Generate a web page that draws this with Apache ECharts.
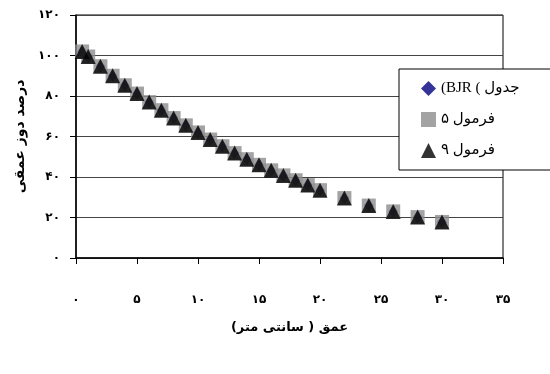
<!DOCTYPE html>
<html>
<head>
<meta charset="utf-8">
<script src="https://cdn.jsdelivr.net/npm/echarts@6/dist/echarts.min.js"></script>
<style>html,body{margin:0;padding:0;background:#fff}#c{width:550px;height:374px}</style>
</head>
<body>
<div id="c"></div>
<script>
var depths = [0.5,1,2,3,4,5,6,7,8,9,10,11,12,13,14,15,16,17,18,19,20,22,24,26,28,30];
var bjrTable = [102,99.5,94.7,90.0,85.3,81.2,77.0,73.0,69.1,65.5,62.0,58.5,55.2,51.8,48.8,46.0,43.3,40.8,38.4,36.0,33.5,29.6,25.9,23.0,20.2,17.8];
var formula5 = [102,99.5,94.7,90.0,85.3,81.2,77.0,73.0,69.1,65.5,62.0,58.5,55.2,51.8,48.8,46.0,43.3,40.8,38.4,36.0,33.5,29.6,25.9,23.0,20.2,17.8];
var formula9 = [102,99.5,94.7,90.0,85.3,81.2,77.0,73.0,69.1,65.5,62.0,58.5,55.2,51.8,48.8,46.0,43.3,40.8,38.4,36.0,33.5,29.6,25.9,23.0,20.2,17.8];
var seriesNames = ['(BJR ( جدول', 'فرمول ۵', 'فرمول ۹'];
var xTickLabels = ['۰','۵','۱۰','۱۵','۲۰','۲۵','۳۰','۳۵'];
var yTickLabels = ['۰','۲۰','۴۰','۶۰','۸۰','۱۰۰','۱۲۰'];
var xTitle = 'عمق ( سانتی متر)';
var yTitle = 'درصد دوز عمقی';

function pairs(xs, ys){ return xs.map(function(x,i){ return [x, ys[i]]; }); }

var chart = echarts.init(document.getElementById('c'));
chart.setOption({
  animation: false,
  backgroundColor: '#fff',
  grid: {left: 76, right: 47, top: 15, bottom: 116, show: true, borderColor: '#000', borderWidth: 1},
  legend: {
    orient: 'vertical', left: 399, top: 69,
    padding: [12, 40, 12, 22], itemGap: 16,
    itemWidth: 15, itemHeight: 15,
    borderColor: '#000', borderWidth: 1, backgroundColor: '#fff',
    textStyle: {fontFamily: '"Liberation Serif", "DejaVu Sans"', fontSize: 15, color: '#000'},
    data: [
      {name: seriesNames[0], icon: 'diamond'},
      {name: seriesNames[1], icon: 'rect'},
      {name: seriesNames[2], icon: 'triangle'}
    ]
  },
  xAxis: {
    type: 'value', min: 0, max: 35, interval: 5,
    name: xTitle, nameLocation: 'middle', nameGap: 63,
    nameTextStyle: {fontFamily: 'DejaVu Sans', fontWeight: 'bold', fontSize: 13, color: '#000'},
    axisLine: {lineStyle: {color: '#000', width: 1.5}},
    axisTick: {inside: false, length: 6, lineStyle: {color: '#000'}},
    axisLabel: {margin: 36, fontFamily: 'DejaVu Sans', fontWeight: 'bold', fontSize: 12, color: '#000',
      formatter: function(v){ return xTickLabels[Math.round(v/5)]; }},
    splitLine: {show: false}
  },
  yAxis: {
    type: 'value', min: 0, max: 120, interval: 20,
    name: yTitle, nameLocation: 'middle', nameGap: 46, nameRotate: 90,
    nameTextStyle: {fontFamily: 'DejaVu Sans', fontWeight: 'bold', fontSize: 14, color: '#000'},
    axisLine: {show: true, lineStyle: {color: '#000', width: 1.5}},
    axisTick: {show: true, inside: false, length: 6, lineStyle: {color: '#000'}},
    axisLabel: {margin: 16, fontFamily: 'DejaVu Sans', fontWeight: 'bold', fontSize: 12, color: '#000',
      formatter: function(v){ return yTickLabels[Math.round(v/20)]; }},
    splitLine: {show: true, lineStyle: {color: '#444', width: 1}}
  },
  series: [
    {name: seriesNames[0], type: 'scatter', symbol: 'diamond', symbolSize: [10, 12],
     itemStyle: {color: '#000080'}, data: pairs(depths, bjrTable)},
    {name: seriesNames[1], type: 'scatter', symbol: 'rect', symbolSize: 14,
     itemStyle: {color: '#8c8c8c'}, data: pairs(depths, formula5)},
    {name: seriesNames[2], type: 'scatter', symbol: 'triangle', symbolSize: [15, 15],
     itemStyle: {color: '#000'}, data: pairs(depths, formula9)}
  ]
});
</script>
</body>
</html>
